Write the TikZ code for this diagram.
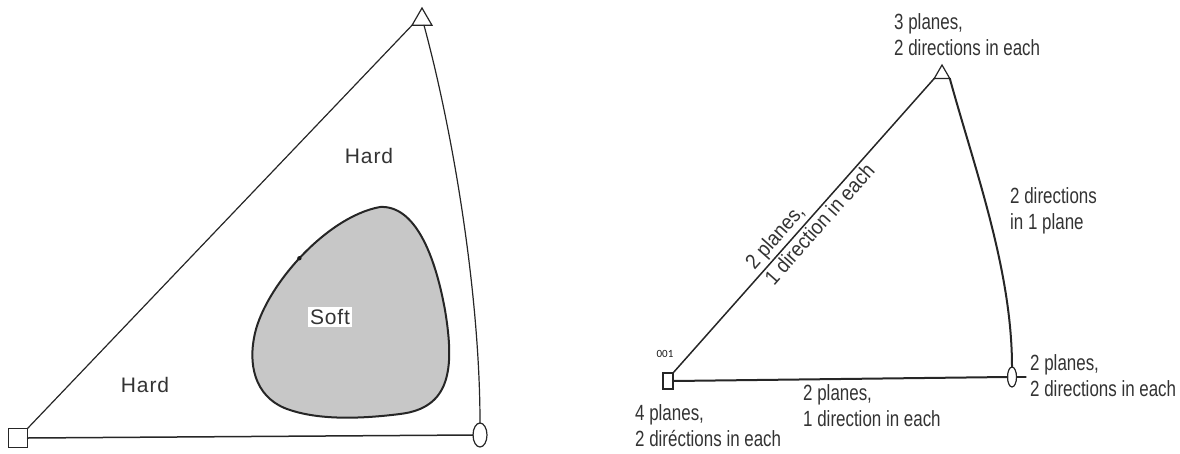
\documentclass[tikz,border=0pt]{standalone}
\usepackage{fontspec}
\setmainfont{Liberation Sans}
\newfontfamily\labfont[FakeStretch=0.77]{Liberation Sans}
\newfontfamily\diagfont[FakeStretch=0.9]{Liberation Sans}
\newfontfamily\hardfont[LetterSpace=4]{Liberation Sans}
\newfontfamily\smallfont{Carlito}
\usetikzlibrary{shapes.geometric}
\tikzset{
  ink/.style={draw=black!85, line width=1.3pt, line cap=round},
  vsq/.style={rectangle, draw=black!85, line width=1.2pt, inner sep=0pt, outer sep=0pt, fill=white},
  vtri/.style={regular polygon, regular polygon sides=3, draw=black!85, line width=1.2pt, inner sep=0pt, outer sep=0pt, fill=white},
  vell/.style={ellipse, draw=black!85, line width=1.2pt, inner sep=0pt, outer sep=0pt, fill=white},
  hardlab/.style={font=\hardfont\fontsize{21}{24}\selectfont, text=black!80, inner sep=2pt},
  lab/.style={font=\labfont\fontsize{22}{26}\selectfont, text=black!80, align=left, inner sep=0pt, anchor=north west},
  diaglab/.style={font=\diagfont\fontsize{21}{24}\selectfont, text=black!80, sloped, inner sep=2pt},
}
\begin{document}
\begin{tikzpicture}[x=1pt,y=-1pt]
\useasboundingbox (0,0) rectangle (1180,453);
% ---------------- left diagram ----------------
\node[vsq, minimum width=19pt, minimum height=19pt] (sqL) at (18,438) {};
\node[vtri, minimum size=23pt] (triL) at (422,19.5) {};
\node[vell, minimum width=14pt, minimum height=24pt] (elL) at (480,435) {};
\draw[ink, line width=1.2pt] (sqL.north east) -- (triL.corner 2);
\draw[ink, line width=1.5pt] (sqL.east) -- (elL.west);
\draw[ink, line width=1.2pt] ([xshift=2pt]triL.south) .. controls (455,140) and (480,300) .. (elL.north);
% soft region
\draw[line width=2pt, draw=black!85, fill=black!22]
  (380,207) .. controls (415,205) and (435,255) .. (445,310)
  .. controls (455,370) and (450,408) .. (400,414)
  .. controls (360,419) and (320,420) .. (290,410)
  .. controls (258,400) and (248,370) .. (254,338)
  .. controls (262,290) and (325,217) .. coordinate[pos=0.5] (softdot) (380,207) -- cycle;
\fill[black!90] (softdot) circle (2.2pt);
\node[hardlab] (hard1) at (369,156) {Hard};
\node[hardlab] (hard2) at (145,385) {Hard};
\node[hardlab, fill=white] (soft) at (330,317) {Soft};
% ---------------- right diagram ----------------
\node[vsq, minimum width=10pt, minimum height=16pt] (sqR) at (668,381) {};
\node[vtri, minimum size=18pt] (triR) at (942,74) {};
\node[vell, minimum width=9pt, minimum height=20pt] (elR) at (1012,377) {};
\coordinate (tickend) at (1026,377);
\draw[ink, line width=1.5pt] (sqR.north east) -- (triR.corner 2)
  node[diaglab, pos=0.43, above] (d1) {2 planes,}
  node[diaglab, pos=0.53, below] (d2) {1 direction in each};
\draw[ink, line width=2pt] (sqR.east) -- (elR.west);
\draw[ink, line width=1.2pt] (elR.east) -- (tickend);
\draw[ink, line width=2pt] (triR.corner 3) .. controls (975,170) and (1012,270) .. (elR.north);
\node[font=\smallfont\fontsize{11}{12}\selectfont, text=black!90] (lab001) at (665,354) {001};
\node[lab] (top) at (894,13) {3 planes,\\2 directions in each};
\node[lab] (arcl) at (1010,187) {2 directions\\in 1 plane};
\node[lab] (circl) at (1030,354) {2 planes,\\2 directions in each};
\node[lab] (sql) at (635,404) {4 planes,\\2 diréctions in each};
\node[lab] (botl) at (803,384) {2 planes,\\1 direction in each};
\end{tikzpicture}
\end{document}
